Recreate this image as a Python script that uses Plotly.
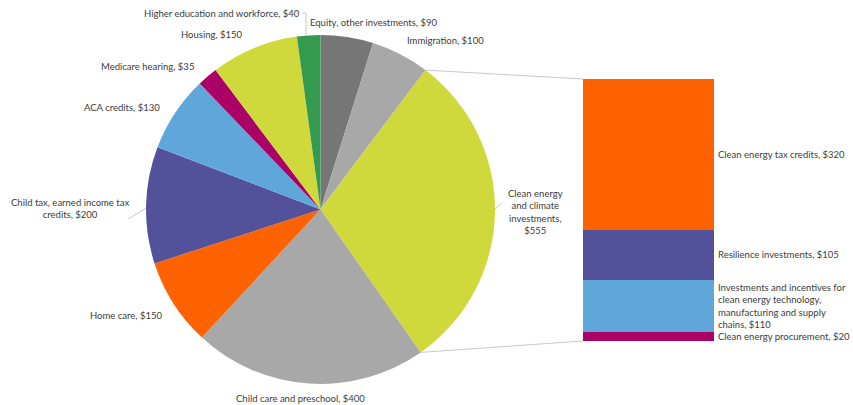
import math
import plotly.graph_objects as go

# Spending categories (billions of dollars), in slice order clockwise from 12 o'clock
pie_labels = [
    "Equity, other investments",
    "Immigration",
    "Clean energy and climate investments",
    "Child care and preschool",
    "Home care",
    "Child tax, earned income tax credits",
    "ACA credits",
    "Medicare hearing",
    "Housing",
    "Higher education and workforce",
]
pie_values = [90, 100, 555, 400, 150, 200, 130, 35, 150, 40]
pie_colors = ["#767676", "#a8a8a8", "#cfd93c", "#a8a8a8", "#ff6200",
              "#525199", "#5fa7db", "#ab0066", "#cfd93c", "#349a50"]

# Breakdown of the clean energy slice, stacked from the bottom up
bar_labels = [
    "Clean energy procurement",
    "Investments and incentives for<br>clean energy technology,<br>manufacturing and supply<br>chains",
    "Resilience investments",
    "Clean energy tax credits",
]
bar_values = [20, 110, 105, 320]
bar_colors = ["#ab0066", "#5fa7db", "#525199", "#ff6200"]

W, H = 853, 405
FONT = "Lato"
FSIZE = 9.5
TXT = "#3c3c3c"
LINE = "#c8c8c8"


def px(x):
    return x / W


def py(y):
    return 1 - y / H


# Pie geometry (pixels)
cx, cy, r = 320.5, 209.5, 174.5
pie_dom_x = [px(cx - r), px(cx + r)]
pie_dom_y = [py(cy + r), py(cy - r)]

# Bar geometry (paper)
bar_dom_x = [px(583), px(714)]
bar_dom_y = [py(341), py(79)]

fig = go.Figure()
fig.add_trace(go.Pie(
    labels=pie_labels, values=pie_values,
    marker=dict(colors=pie_colors, line=dict(width=0)),
    sort=False, direction="clockwise", rotation=0,
    textinfo="none", hoverinfo="label+value",
    domain=dict(x=pie_dom_x, y=pie_dom_y), showlegend=False,
))

for lab, val, col in zip(bar_labels, bar_values, bar_colors):
    fig.add_trace(go.Bar(
        x=[0], y=[val], marker=dict(color=col, line=dict(width=0)),
        width=1, showlegend=False, hoverinfo="y", name=lab.replace("<br>", " "),
        xaxis="x", yaxis="y",
    ))

total_bar = sum(bar_values)
fig.update_layout(
    width=W, height=H, margin=dict(l=0, r=0, t=0, b=0),
    paper_bgcolor="white", plot_bgcolor="white",
    barmode="stack", bargap=0,
    xaxis=dict(domain=bar_dom_x, range=[-0.5, 0.5], visible=False, fixedrange=True),
    yaxis=dict(domain=bar_dom_y, range=[0, total_bar], visible=False, fixedrange=True),
    font=dict(family=FONT, size=FSIZE, color=TXT),
)

annotations = []
shapes = []

# Pie label placement: anchor x px, anchor y px, xanchor, align
pie_label_pos = {
    "Equity, other investments": (308, 22, "left", "left"),
    "Immigration": (405, 40, "left", "left"),
    "Clean energy and climate investments": (535, 212, "center", "center"),
    "Child care and preschool": (300.5, 398, "center", "center"),
    "Home care": (164, 315, "right", "right"),
    "Child tax, earned income tax credits": (70, 208, "center", "center"),
    "ACA credits": (162, 108, "right", "right"),
    "Medicare hearing": (196, 66, "right", "right"),
    "Housing": (245, 35, "right", "right"),
    "Higher education and workforce": (302, 13, "right", "right"),
}
pie_label_text = {
    "Clean energy and climate investments": "Clean energy<br>and climate<br>investments,<br>${v}",
    "Child tax, earned income tax credits": "Child tax, earned income tax<br>credits, ${v}",
}
for lab, val in zip(pie_labels, pie_values):
    x, y, xa, al = pie_label_pos[lab]
    text = pie_label_text.get(lab, lab + ", ${v}").replace("{v}", str(val))
    annotations.append(dict(
        x=px(x), y=py(y), xref="paper", yref="paper", text=text,
        showarrow=False, xanchor=xa, yanchor="middle", align=al,
        font=dict(family=FONT, size=FSIZE, color=TXT),
    ))

# Bar labels at the middle of each stacked segment
cum = 0
for lab, val in zip(bar_labels, bar_values):
    mid = cum + val / 2
    cum += val
    annotations.append(dict(
        x=0.5, y=mid, xref="x", yref="y", text=f"{lab}, ${val}",
        showarrow=False, xanchor="left", yanchor="middle", align="left", xshift=2,
        font=dict(family=FONT, size=FSIZE, color=TXT),
    ))

# Connector lines from the clean energy slice edges to the bar corners
total = sum(pie_values)
ci = pie_labels.index("Clean energy and climate investments")
a0 = sum(pie_values[:ci]) / total * 2 * math.pi
a1 = sum(pie_values[:ci + 1]) / total * 2 * math.pi
p0 = (cx + r * math.sin(a0), cy - r * math.cos(a0))
p1 = (cx + r * math.sin(a1), cy - r * math.cos(a1))
shapes.append(dict(type="line", xref="paper", yref="paper",
                   x0=px(p0[0]), y0=py(p0[1]), x1=bar_dom_x[0], y1=bar_dom_y[1],
                   line=dict(color=LINE, width=1)))
shapes.append(dict(type="line", xref="paper", yref="paper",
                   x0=px(p1[0]), y0=py(p1[1]), x1=bar_dom_x[0], y1=bar_dom_y[0],
                   line=dict(color=LINE, width=1)))

# Short leader lines
leaders = [
    [(302, 13), (306, 13), (306, 35)],
    [(128, 219), (146, 208)],
    [(495, 209), (502, 203)],
]
for pts in leaders:
    path = "M " + " L ".join(f"{px(x)},{py(y)}" for x, y in pts)
    shapes.append(dict(type="path", xref="paper", yref="paper", path=path,
                       line=dict(color=LINE, width=1)))

fig.update_layout(annotations=annotations, shapes=shapes)
fig.write_html("out.html")
